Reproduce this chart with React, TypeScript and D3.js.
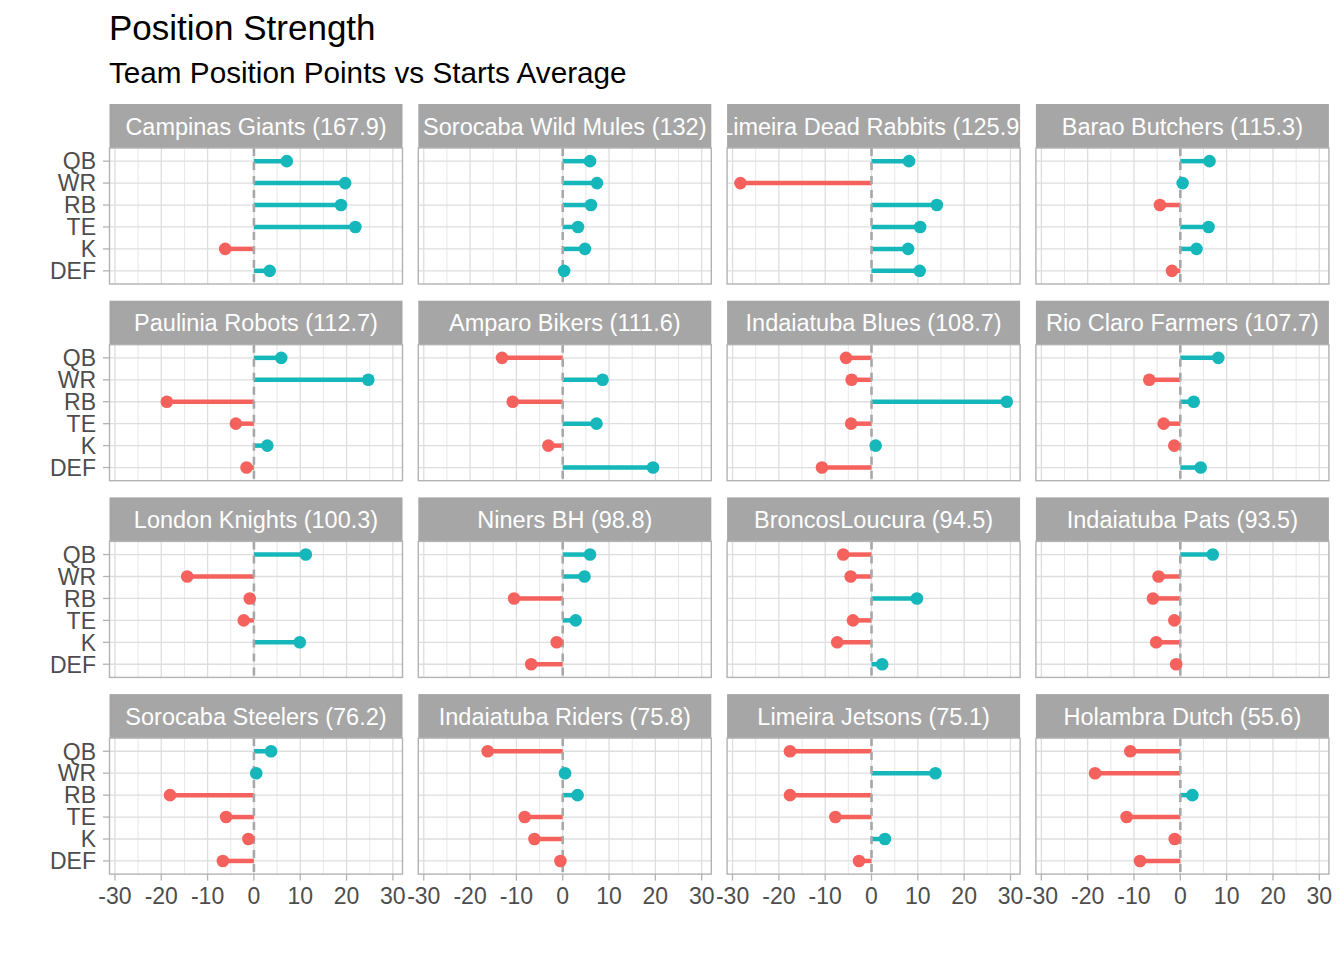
import * as d3 from 'd3'

// facet order and strip totals
const teams = [
  'Campinas Giants', 'Sorocaba Wild Mules', 'Limeira Dead Rabbits', 'Barao Butchers',
  'Paulinia Robots', 'Amparo Bikers', 'Indaiatuba Blues', 'Rio Claro Farmers',
  'London Knights', 'Niners BH', 'BroncosLoucura', 'Indaiatuba Pats',
  'Sorocaba Steelers', 'Indaiatuba Riders', 'Limeira Jetsons', 'Holambra Dutch',
]
const totals = [167.9, 132, 125.9, 115.3, 112.7, 111.6, 108.7, 107.7, 100.3, 98.8, 94.5, 93.5, 76.2, 75.8, 75.1, 55.6]

const positions = ['QB', 'WR', 'RB', 'TE', 'K', 'DEF']

// position points minus starts average, one row per team (QB, WR, RB, TE, K, DEF)
const diffs: (number | null)[][] = [
  [7.1, 19.7, 18.8, 21.9, -6.2, 3.4],
  [5.9, 7.4, 6.1, 3.3, 4.8, 0.3],
  [8.1, -28.3, 14.1, 10.5, 7.9, 10.4],
  [6.3, 0.5, -4.4, 6.1, 3.5, -1.8],
  [5.9, 24.7, -18.8, -3.9, 2.9, -1.6],
  [-13.1, 8.6, -10.8, 7.3, -3.1, 19.5],
  [-5.5, -4.3, 29.2, -4.4, 0.9, -10.7],
  [8.2, -6.7, 2.9, -3.6, -1.3, 4.4],
  [11.2, -14.4, -0.9, -2.2, 9.9, null],
  [5.9, 4.7, -10.5, 2.8, -1.3, -6.8],
  [-6.1, -4.5, 9.8, -4.0, -7.4, 2.3],
  [7.0, -4.7, -5.9, -1.3, -5.2, -0.9],
  [3.7, 0.5, -18.1, -6.0, -1.2, -6.7],
  [-16.2, 0.5, 3.2, -8.2, -6.1, -0.5],
  [-17.6, 13.8, -17.6, -7.8, 2.9, -2.7],
  [-10.8, -18.4, 2.6, -11.6, -1.2, -8.7],
]

const xTicks = [-30, -20, -10, 0, 10, 20, 30]
const xMinor = [-25, -15, -5, 5, 15, 25]

const FONT = '"Liberation Sans", Arial, Helvetica, sans-serif'
const POS = '#15B7BA'
const NEG = '#F5625D'

const left = 109.5
const colStep = 308.8
const panelW = 293
const top = 104
const rowStep = 196.7
const stripH = 44
const panelH = 136

export default function App() {
  const all = diffs.flat().filter((v): v is number => v !== null)
  const [lo, hi] = d3.extent(all) as [number, number]
  const pad = (hi - lo) * 0.05
  const x = d3.scaleLinear().domain([lo - pad, hi + pad]).range([0, panelW])
  const y = d3.scalePoint<string>().domain(positions).range([0, panelH]).padding(0.6)

  return (
    <svg width={1344} height={960} style={{ position: 'absolute', left: 0, top: 0, fontFamily: FONT }}>
      <rect width={1344} height={960} fill="white" />
      <text x={109} y={40} fontSize={35} fill="black">Position Strength</text>
      <text x={109} y={83} fontSize={29.7} fill="black">Team Position Points vs Starts Average</text>
      <defs>
        {teams.map((_, i) => (
          <clipPath id={`strip${i}`} key={i}>
            <rect width={panelW} height={stripH} />
          </clipPath>
        ))}
      </defs>
      {teams.map((team, i) => {
        const col = i % 4
        const row = Math.floor(i / 4)
        const px = left + col * colStep
        const sy = top + row * rowStep
        const py = sy + stripH
        return (
          <g key={team}>
            <g transform={`translate(${px},${sy})`}>
              <rect width={panelW} height={stripH} fill="#A6A6A6" />
              <g clipPath={`url(#strip${i})`}>
                <text x={panelW / 2} y={30.5} textAnchor="middle" fontSize={23.5} fill="white">
                  {`${team} (${totals[i]})`}
                </text>
              </g>
            </g>
            <g transform={`translate(${px},${py})`}>
              {xMinor.map((t) => (
                <line key={t} x1={x(t)} x2={x(t)} y1={0} y2={panelH} stroke="#DEDEDE" strokeWidth={0.7} />
              ))}
              {xTicks.map((t) => (
                <line key={t} x1={x(t)} x2={x(t)} y1={0} y2={panelH} stroke="#DEDEDE" strokeWidth={1.3} />
              ))}
              {positions.map((p) => (
                <line key={p} x1={0} x2={panelW} y1={y(p)} y2={y(p)} stroke="#DEDEDE" strokeWidth={1.3} />
              ))}
              {positions.map((p, k) => {
                const v = diffs[i][k]
                if (v === null) return null
                return (
                  <line key={p} x1={x(0)} x2={x(v)} y1={y(p)} y2={y(p)}
                    stroke={v >= 0 ? POS : NEG} strokeWidth={4.5} />
                )
              })}
              <line x1={x(0)} x2={x(0)} y1={0} y2={panelH} stroke="#A8A8A8" strokeWidth={2.6} strokeDasharray="8,6" />
              {positions.map((p, k) => {
                const v = diffs[i][k]
                if (v === null) return null
                return <circle key={p} cx={x(v)} cy={y(p)} r={6.3} fill={v >= 0 ? POS : NEG} />
              })}
              <rect width={panelW} height={panelH} fill="none" stroke="#B3B3B3" strokeWidth={1.4} />
              {col === 0 && positions.map((p) => (
                <g key={p}>
                  <line x1={-6.5} x2={0} y1={y(p)} y2={y(p)} stroke="#B3B3B3" strokeWidth={1.3} />
                  <text x={-13.5} y={y(p)} dy="0.36em" textAnchor="end" fontSize={23} fill="#4D4D4D">{p}</text>
                </g>
              ))}
              {row === 3 && xTicks.map((t) => (
                <g key={t}>
                  <line x1={x(t)} x2={x(t)} y1={panelH} y2={panelH + 6.5} stroke="#B3B3B3" strokeWidth={1.3} />
                  <text x={x(t)} y={panelH + 30} textAnchor="middle" fontSize={23} fill="#4D4D4D">{t}</text>
                </g>
              ))}
            </g>
          </g>
        )
      })}
    </svg>
  )
}
